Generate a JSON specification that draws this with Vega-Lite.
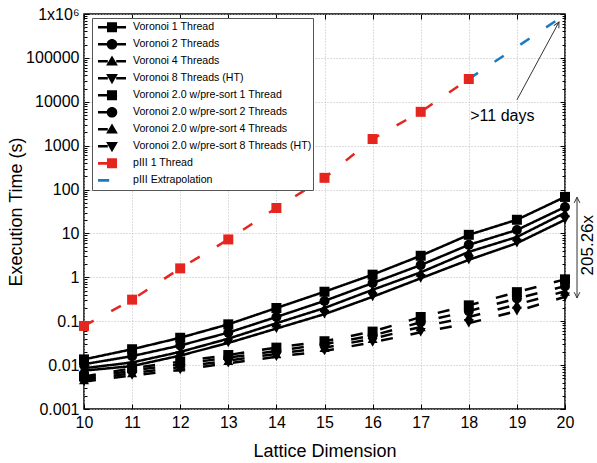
{
  "$schema": "https://vega.github.io/schema/vega-lite/v6.json",
  "width": 481,
  "height": 395,
  "autosize": {"type": "none"},
  "padding": {"left": 84, "top": 14, "right": 32, "bottom": 54},
  "background": "white",
  "config": {"font": "Liberation Sans", "view": {"stroke": "black", "strokeWidth": 1.5}},
  "datasets": {
    "main": [
      {"series": "Voronoi 1 Thread", "dim": 10, "time": 0.0135},
      {"series": "Voronoi 1 Thread", "dim": 11, "time": 0.023},
      {"series": "Voronoi 1 Thread", "dim": 12, "time": 0.042},
      {"series": "Voronoi 1 Thread", "dim": 13, "time": 0.085},
      {"series": "Voronoi 1 Thread", "dim": 14, "time": 0.2},
      {"series": "Voronoi 1 Thread", "dim": 15, "time": 0.47},
      {"series": "Voronoi 1 Thread", "dim": 16, "time": 1.15},
      {"series": "Voronoi 1 Thread", "dim": 17, "time": 3.1},
      {"series": "Voronoi 1 Thread", "dim": 18, "time": 9.3},
      {"series": "Voronoi 1 Thread", "dim": 19, "time": 20.5},
      {"series": "Voronoi 1 Thread", "dim": 20, "time": 68},
      {"series": "Voronoi 2 Threads", "dim": 10, "time": 0.0105},
      {"series": "Voronoi 2 Threads", "dim": 11, "time": 0.016},
      {"series": "Voronoi 2 Threads", "dim": 12, "time": 0.028},
      {"series": "Voronoi 2 Threads", "dim": 13, "time": 0.055},
      {"series": "Voronoi 2 Threads", "dim": 14, "time": 0.125},
      {"series": "Voronoi 2 Threads", "dim": 15, "time": 0.29},
      {"series": "Voronoi 2 Threads", "dim": 16, "time": 0.74},
      {"series": "Voronoi 2 Threads", "dim": 17, "time": 1.9},
      {"series": "Voronoi 2 Threads", "dim": 18, "time": 5.5},
      {"series": "Voronoi 2 Threads", "dim": 19, "time": 12},
      {"series": "Voronoi 2 Threads", "dim": 20, "time": 40},
      {"series": "Voronoi 4 Threads", "dim": 10, "time": 0.0085},
      {"series": "Voronoi 4 Threads", "dim": 11, "time": 0.0115},
      {"series": "Voronoi 4 Threads", "dim": 12, "time": 0.02},
      {"series": "Voronoi 4 Threads", "dim": 13, "time": 0.04},
      {"series": "Voronoi 4 Threads", "dim": 14, "time": 0.09},
      {"series": "Voronoi 4 Threads", "dim": 15, "time": 0.2},
      {"series": "Voronoi 4 Threads", "dim": 16, "time": 0.52},
      {"series": "Voronoi 4 Threads", "dim": 17, "time": 1.3},
      {"series": "Voronoi 4 Threads", "dim": 18, "time": 3.8},
      {"series": "Voronoi 4 Threads", "dim": 19, "time": 8.3},
      {"series": "Voronoi 4 Threads", "dim": 20, "time": 29.5},
      {"series": "Voronoi 8 Threads (HT)", "dim": 10, "time": 0.0075},
      {"series": "Voronoi 8 Threads (HT)", "dim": 11, "time": 0.0095},
      {"series": "Voronoi 8 Threads (HT)", "dim": 12, "time": 0.0165},
      {"series": "Voronoi 8 Threads (HT)", "dim": 13, "time": 0.032},
      {"series": "Voronoi 8 Threads (HT)", "dim": 14, "time": 0.068},
      {"series": "Voronoi 8 Threads (HT)", "dim": 15, "time": 0.145},
      {"series": "Voronoi 8 Threads (HT)", "dim": 16, "time": 0.36},
      {"series": "Voronoi 8 Threads (HT)", "dim": 17, "time": 0.95},
      {"series": "Voronoi 8 Threads (HT)", "dim": 18, "time": 2.5},
      {"series": "Voronoi 8 Threads (HT)", "dim": 19, "time": 6},
      {"series": "Voronoi 8 Threads (HT)", "dim": 20, "time": 20.5},
      {"series": "Voronoi 2.0 w/pre-sort 1 Thread", "dim": 10, "time": 0.0055},
      {"series": "Voronoi 2.0 w/pre-sort 1 Thread", "dim": 11, "time": 0.0085},
      {"series": "Voronoi 2.0 w/pre-sort 1 Thread", "dim": 12, "time": 0.012},
      {"series": "Voronoi 2.0 w/pre-sort 1 Thread", "dim": 13, "time": 0.017},
      {"series": "Voronoi 2.0 w/pre-sort 1 Thread", "dim": 14, "time": 0.025},
      {"series": "Voronoi 2.0 w/pre-sort 1 Thread", "dim": 15, "time": 0.035},
      {"series": "Voronoi 2.0 w/pre-sort 1 Thread", "dim": 16, "time": 0.058},
      {"series": "Voronoi 2.0 w/pre-sort 1 Thread", "dim": 17, "time": 0.125},
      {"series": "Voronoi 2.0 w/pre-sort 1 Thread", "dim": 18, "time": 0.23},
      {"series": "Voronoi 2.0 w/pre-sort 1 Thread", "dim": 19, "time": 0.46},
      {"series": "Voronoi 2.0 w/pre-sort 1 Thread", "dim": 20, "time": 0.9},
      {"series": "Voronoi 2.0 w/pre-sort 2 Threads", "dim": 10, "time": 0.005},
      {"series": "Voronoi 2.0 w/pre-sort 2 Threads", "dim": 11, "time": 0.0075},
      {"series": "Voronoi 2.0 w/pre-sort 2 Threads", "dim": 12, "time": 0.0105},
      {"series": "Voronoi 2.0 w/pre-sort 2 Threads", "dim": 13, "time": 0.0148},
      {"series": "Voronoi 2.0 w/pre-sort 2 Threads", "dim": 14, "time": 0.021},
      {"series": "Voronoi 2.0 w/pre-sort 2 Threads", "dim": 15, "time": 0.03},
      {"series": "Voronoi 2.0 w/pre-sort 2 Threads", "dim": 16, "time": 0.047},
      {"series": "Voronoi 2.0 w/pre-sort 2 Threads", "dim": 17, "time": 0.095},
      {"series": "Voronoi 2.0 w/pre-sort 2 Threads", "dim": 18, "time": 0.17},
      {"series": "Voronoi 2.0 w/pre-sort 2 Threads", "dim": 19, "time": 0.33},
      {"series": "Voronoi 2.0 w/pre-sort 2 Threads", "dim": 20, "time": 0.63},
      {"series": "Voronoi 2.0 w/pre-sort 4 Threads", "dim": 10, "time": 0.0046},
      {"series": "Voronoi 2.0 w/pre-sort 4 Threads", "dim": 11, "time": 0.0066},
      {"series": "Voronoi 2.0 w/pre-sort 4 Threads", "dim": 12, "time": 0.009},
      {"series": "Voronoi 2.0 w/pre-sort 4 Threads", "dim": 13, "time": 0.0127},
      {"series": "Voronoi 2.0 w/pre-sort 4 Threads", "dim": 14, "time": 0.018},
      {"series": "Voronoi 2.0 w/pre-sort 4 Threads", "dim": 15, "time": 0.025},
      {"series": "Voronoi 2.0 w/pre-sort 4 Threads", "dim": 16, "time": 0.04},
      {"series": "Voronoi 2.0 w/pre-sort 4 Threads", "dim": 17, "time": 0.074},
      {"series": "Voronoi 2.0 w/pre-sort 4 Threads", "dim": 18, "time": 0.125},
      {"series": "Voronoi 2.0 w/pre-sort 4 Threads", "dim": 19, "time": 0.24},
      {"series": "Voronoi 2.0 w/pre-sort 4 Threads", "dim": 20, "time": 0.48},
      {"series": "Voronoi 2.0 w/pre-sort 8 Threads (HT)", "dim": 10, "time": 0.0042},
      {"series": "Voronoi 2.0 w/pre-sort 8 Threads (HT)", "dim": 11, "time": 0.0058},
      {"series": "Voronoi 2.0 w/pre-sort 8 Threads (HT)", "dim": 12, "time": 0.0078},
      {"series": "Voronoi 2.0 w/pre-sort 8 Threads (HT)", "dim": 13, "time": 0.011},
      {"series": "Voronoi 2.0 w/pre-sort 8 Threads (HT)", "dim": 14, "time": 0.0155},
      {"series": "Voronoi 2.0 w/pre-sort 8 Threads (HT)", "dim": 15, "time": 0.021},
      {"series": "Voronoi 2.0 w/pre-sort 8 Threads (HT)", "dim": 16, "time": 0.033},
      {"series": "Voronoi 2.0 w/pre-sort 8 Threads (HT)", "dim": 17, "time": 0.056},
      {"series": "Voronoi 2.0 w/pre-sort 8 Threads (HT)", "dim": 18, "time": 0.09},
      {"series": "Voronoi 2.0 w/pre-sort 8 Threads (HT)", "dim": 19, "time": 0.17},
      {"series": "Voronoi 2.0 w/pre-sort 8 Threads (HT)", "dim": 20, "time": 0.36},
      {"series": "pIII 1 Thread", "dim": 10, "time": 0.078},
      {"series": "pIII 1 Thread", "dim": 11, "time": 0.31},
      {"series": "pIII 1 Thread", "dim": 12, "time": 1.6},
      {"series": "pIII 1 Thread", "dim": 13, "time": 7.3},
      {"series": "pIII 1 Thread", "dim": 14, "time": 38},
      {"series": "pIII 1 Thread", "dim": 15, "time": 185},
      {"series": "pIII 1 Thread", "dim": 16, "time": 1420},
      {"series": "pIII 1 Thread", "dim": 17, "time": 5900},
      {"series": "pIII 1 Thread", "dim": 18, "time": 33000},
      {"series": "pIII Extrapolation", "dim": 18, "time": 33000},
      {"series": "pIII Extrapolation", "dim": 20, "time": 960000}
    ],
    "gt": [{"dim": 18.03, "time": 4740, "label": ">11 days"}],
    "ratio": [{"dim": 20.48, "time": 5.4, "label": "205.26x"}],
    "arrows": [
      {"dim": 19.0, "time": 11000, "dim2": 19.875, "time2": 658000},
      {"dim": 20.25, "time": 67, "dim2": 20.25, "time2": 0.34}
    ],
    "tipDiag": [{"dim": 19.875, "time": 658000}],
    "tipUp": [{"dim": 20.25, "time": 67}],
    "tipDown": [{"dim": 20.25, "time": 0.34}]
  },
  "data": {"name": "main"},
  "resolve": {
    "scale": {"color": "independent", "shape": "independent", "strokeDash": "independent"},
    "axis": {"x": "independent", "y": "independent"}
  },
  "layer": [
    {
      "mark": {"type": "line", "strokeWidth": 2.5},
      "encoding": {
        "x": {
          "field": "dim", "type": "quantitative",
          "scale": {"domain": [10, 20], "nice": false, "zero": false},
          "axis": {
            "orient": "bottom", "values": [10, 11, 12, 13, 14, 15, 16, 17, 18, 19, 20], "format": "d",
            "title": "Lattice Dimension", "titleFontSize": 18, "titleFontWeight": "normal", "titleColor": "black", "titlePadding": 12,
            "labelFontSize": 16, "labelColor": "black", "labelPadding": 10, "labelFlush": false,
            "tickSize": -5, "tickColor": "black", "tickWidth": 1, "domain": false,
            "grid": true, "gridDash": [1, 2], "gridColor": "#bbbbbb", "gridWidth": 1
          }
        },
        "y": {
          "field": "time", "type": "quantitative",
          "scale": {"type": "log", "domain": [0.001, 1000000], "nice": false},
          "axis": {
            "orient": "left",
            "values": [0.001,0.002,0.003,0.004,0.005,0.006,0.007,0.008,0.009,0.01,0.02,0.03,0.04,0.05,0.06,0.07,0.08,0.09,0.1,0.2,0.3,0.4,0.5,0.6,0.7,0.8,0.9,1,2,3,4,5,6,7,8,9,10,20,30,40,50,60,70,80,90,100,200,300,400,500,600,700,800,900,1000,2000,3000,4000,5000,6000,7000,8000,9000,10000,20000,30000,40000,50000,60000,70000,80000,90000,100000,200000,300000,400000,500000,600000,700000,800000,900000,1000000],
            "labelExpr": "datum.value == 1000000 ? '1x10⁶' : (indexof([0.001,0.01,0.1,1,10,100,1000,10000,100000,1000000], datum.value) >= 0 ? toString(datum.value) : '')",
            "labelFontSize": 16, "labelColor": "black", "labelPadding": 10, "labelFlush": false,
            "tickSize": {"condition": {"test": "indexof([0.001,0.01,0.1,1,10,100,1000,10000,100000,1000000], datum.value) >= 0", "value": -5}, "value": -3},
            "tickColor": "black", "tickWidth": 1, "domain": false,
            "grid": true, "gridDash": [1, 2], "gridColor": "#bbbbbb", "gridWidth": 1,
            "gridOpacity": {"condition": {"test": "indexof([0.001,0.01,0.1,1,10,100,1000,10000,100000,1000000], datum.value) >= 0", "value": 1}, "value": 0},
            "title": "Execution Time (s)", "titleFontSize": 18, "titleFontWeight": "normal", "titleColor": "black", "titlePadding": 0
          }
        },
        "color": {
          "field": "series", "type": "nominal", "legend": null,
          "scale": {
            "domain": ["Voronoi 1 Thread", "Voronoi 2 Threads", "Voronoi 4 Threads", "Voronoi 8 Threads (HT)", "Voronoi 2.0 w/pre-sort 1 Thread", "Voronoi 2.0 w/pre-sort 2 Threads", "Voronoi 2.0 w/pre-sort 4 Threads", "Voronoi 2.0 w/pre-sort 8 Threads (HT)", "pIII 1 Thread", "pIII Extrapolation"],
            "range": ["#000000", "#000000", "#000000", "#000000", "#000000", "#000000", "#000000", "#000000", "#e5261f", "#1b7bbf"]
          }
        },
        "strokeDash": {
          "field": "series", "type": "nominal", "legend": null,
          "scale": {
            "domain": ["Voronoi 1 Thread", "Voronoi 2 Threads", "Voronoi 4 Threads", "Voronoi 8 Threads (HT)", "Voronoi 2.0 w/pre-sort 1 Thread", "Voronoi 2.0 w/pre-sort 2 Threads", "Voronoi 2.0 w/pre-sort 4 Threads", "Voronoi 2.0 w/pre-sort 8 Threads (HT)", "pIII 1 Thread", "pIII Extrapolation"],
            "range": [[1, 0], [1, 0], [1, 0], [1, 0], [12, 18], [12, 18], [12, 18], [12, 18], [11, 20], [11, 20]]
          }
        }
      }
    },
    {
      "transform": [{"filter": "datum.series != 'pIII Extrapolation'"}],
      "mark": {"type": "point", "filled": true, "opacity": 1, "size": 100},
      "encoding": {
        "x": {
          "field": "dim", "type": "quantitative",
          "axis": {"orient": "top", "values": [10, 11, 12, 13, 14, 15, 16, 17, 18, 19, 20], "labels": false, "title": null, "tickSize": -5, "tickColor": "black", "tickWidth": 1, "domain": false, "grid": false}
        },
        "y": {
          "field": "time", "type": "quantitative",
          "axis": {
            "orient": "right", "labels": false, "title": null, "domain": false, "grid": false,
            "values": [0.001,0.002,0.003,0.004,0.005,0.006,0.007,0.008,0.009,0.01,0.02,0.03,0.04,0.05,0.06,0.07,0.08,0.09,0.1,0.2,0.3,0.4,0.5,0.6,0.7,0.8,0.9,1,2,3,4,5,6,7,8,9,10,20,30,40,50,60,70,80,90,100,200,300,400,500,600,700,800,900,1000,2000,3000,4000,5000,6000,7000,8000,9000,10000,20000,30000,40000,50000,60000,70000,80000,90000,100000,200000,300000,400000,500000,600000,700000,800000,900000,1000000],
            "tickSize": {"condition": {"test": "indexof([0.001,0.01,0.1,1,10,100,1000,10000,100000,1000000], datum.value) >= 0", "value": -5}, "value": -3},
            "tickColor": "black", "tickWidth": 1
          }
        },
        "color": {
          "field": "series", "type": "nominal", "legend": null,
          "scale": {
            "domain": ["Voronoi 1 Thread", "Voronoi 2 Threads", "Voronoi 4 Threads", "Voronoi 8 Threads (HT)", "Voronoi 2.0 w/pre-sort 1 Thread", "Voronoi 2.0 w/pre-sort 2 Threads", "Voronoi 2.0 w/pre-sort 4 Threads", "Voronoi 2.0 w/pre-sort 8 Threads (HT)", "pIII 1 Thread", "pIII Extrapolation"],
            "range": ["#000000", "#000000", "#000000", "#000000", "#000000", "#000000", "#000000", "#000000", "#e5261f", "#1b7bbf"]
          }
        },
        "shape": {
          "field": "series", "type": "nominal", "legend": null,
          "scale": {
            "domain": ["Voronoi 1 Thread", "Voronoi 2 Threads", "Voronoi 4 Threads", "Voronoi 8 Threads (HT)", "Voronoi 2.0 w/pre-sort 1 Thread", "Voronoi 2.0 w/pre-sort 2 Threads", "Voronoi 2.0 w/pre-sort 4 Threads", "Voronoi 2.0 w/pre-sort 8 Threads (HT)", "pIII 1 Thread", "pIII Extrapolation"],
            "range": ["square", "circle", "triangle-up", "triangle-down", "square", "circle", "triangle-up", "triangle-down", "square", "square"]
          }
        }
      }
    },
    {
      "transform": [{"filter": "false"}],
      "mark": {"type": "point", "filled": true, "opacity": 1},
      "encoding": {
        "shape": {
          "field": "series", "type": "nominal",
          "scale": {
            "domain": ["Voronoi 1 Thread", "Voronoi 2 Threads", "Voronoi 4 Threads", "Voronoi 8 Threads (HT)", "Voronoi 2.0 w/pre-sort 1 Thread", "Voronoi 2.0 w/pre-sort 2 Threads", "Voronoi 2.0 w/pre-sort 4 Threads", "Voronoi 2.0 w/pre-sort 8 Threads (HT)", "pIII 1 Thread", "pIII Extrapolation"],
            "range": [
              "M-1,-0.09L-0.3,-0.09L-0.3,0.09L-1,0.09Z M0.3,-0.09L1,-0.09L1,0.09L0.3,0.09Z M-0.36,-0.36L0.36,-0.36L0.36,0.36L-0.36,0.36Z",
              "M-1,-0.09L-0.3,-0.09L-0.3,0.09L-1,0.09Z M0.3,-0.09L1,-0.09L1,0.09L0.3,0.09Z M0.38,0A0.38,0.38,0,1,1,-0.38,0A0.38,0.38,0,1,1,0.38,0Z",
              "M-1,-0.09L-0.3,-0.09L-0.3,0.09L-1,0.09Z M0.3,-0.09L1,-0.09L1,0.09L0.3,0.09Z M0,-0.42L0.42,0.3L-0.42,0.3Z",
              "M-1,-0.09L-0.3,-0.09L-0.3,0.09L-1,0.09Z M0.3,-0.09L1,-0.09L1,0.09L0.3,0.09Z M0,0.42L0.42,-0.3L-0.42,-0.3Z",
              "M-1,-0.09L-0.3,-0.09L-0.3,0.09L-1,0.09Z M-0.36,-0.36L0.36,-0.36L0.36,0.36L-0.36,0.36Z",
              "M-1,-0.09L-0.3,-0.09L-0.3,0.09L-1,0.09Z M0.38,0A0.38,0.38,0,1,1,-0.38,0A0.38,0.38,0,1,1,0.38,0Z",
              "M-1,-0.09L-0.3,-0.09L-0.3,0.09L-1,0.09Z M0,-0.42L0.42,0.3L-0.42,0.3Z",
              "M-1,-0.09L-0.3,-0.09L-0.3,0.09L-1,0.09Z M0,0.42L0.42,-0.3L-0.42,-0.3Z",
              "M-1,-0.1L-0.3,-0.1L-0.3,0.1L-1,0.1Z M-0.36,-0.36L0.36,-0.36L0.36,0.36L-0.36,0.36Z",
              "M-1,-0.1L-0.2,-0.1L-0.2,0.1L-1,0.1Z"
            ]
          },
          "legend": {"title": null, "orient": "none", "legendX": 8, "legendY": 4, "symbolSize": 784, "symbolStrokeWidth": 0, "clipHeight": 16.6, "rowPadding": 0, "padding": 1, "symbolOffset": 5, "labelOffset": 7, "labelFontSize": 10.6, "labelFont": "Liberation Sans", "labelColor": "black", "labelLimit": 400, "fillColor": "white", "strokeColor": "#555555"}
        },
        "color": {
          "field": "series", "type": "nominal",
          "scale": {
            "domain": ["Voronoi 1 Thread", "Voronoi 2 Threads", "Voronoi 4 Threads", "Voronoi 8 Threads (HT)", "Voronoi 2.0 w/pre-sort 1 Thread", "Voronoi 2.0 w/pre-sort 2 Threads", "Voronoi 2.0 w/pre-sort 4 Threads", "Voronoi 2.0 w/pre-sort 8 Threads (HT)", "pIII 1 Thread", "pIII Extrapolation"],
            "range": ["#000000", "#000000", "#000000", "#000000", "#000000", "#000000", "#000000", "#000000", "#e5261f", "#1b7bbf"]
          },
          "legend": {"title": null, "orient": "none", "legendX": 8, "legendY": 4, "symbolSize": 784, "symbolStrokeWidth": 0, "clipHeight": 16.6, "rowPadding": 0, "padding": 1, "symbolOffset": 5, "labelOffset": 7, "labelFontSize": 10.6, "labelFont": "Liberation Sans", "labelColor": "black", "labelLimit": 400, "fillColor": "white", "strokeColor": "#555555"}
        }
      }
    },
    {
      "data": {"name": "arrows"},
      "mark": {"type": "rule", "color": "#333333", "strokeWidth": 1},
      "encoding": {
        "x": {"field": "dim", "type": "quantitative", "axis": null},
        "y": {"field": "time", "type": "quantitative", "axis": null},
        "x2": {"field": "dim2"},
        "y2": {"field": "time2"}
      }
    },
    {
      "data": {"name": "tipDiag"},
      "mark": {"type": "point", "shape": "M-0.45,0.9L0,0L0.45,0.9", "filled": false, "opacity": 1, "stroke": "#333333", "strokeWidth": 1, "size": 160, "angle": 28},
      "encoding": {
        "x": {"field": "dim", "type": "quantitative", "axis": null},
        "y": {"field": "time", "type": "quantitative", "axis": null}
      }
    },
    {
      "data": {"name": "tipUp"},
      "mark": {"type": "point", "shape": "M-0.45,0.9L0,0L0.45,0.9", "filled": false, "opacity": 1, "stroke": "#333333", "strokeWidth": 1, "size": 160, "angle": 0},
      "encoding": {
        "x": {"field": "dim", "type": "quantitative", "axis": null},
        "y": {"field": "time", "type": "quantitative", "axis": null}
      }
    },
    {
      "data": {"name": "tipDown"},
      "mark": {"type": "point", "shape": "M-0.45,0.9L0,0L0.45,0.9", "filled": false, "opacity": 1, "stroke": "#333333", "strokeWidth": 1, "size": 160, "angle": 180},
      "encoding": {
        "x": {"field": "dim", "type": "quantitative", "axis": null},
        "y": {"field": "time", "type": "quantitative", "axis": null}
      }
    },
    {
      "data": {"name": "gt"},
      "mark": {"type": "text", "align": "left", "baseline": "middle", "fontSize": 16, "color": "black", "font": "Liberation Sans"},
      "encoding": {
        "x": {"field": "dim", "type": "quantitative", "axis": null},
        "y": {"field": "time", "type": "quantitative", "axis": null},
        "text": {"field": "label"}
      }
    },
    {
      "data": {"name": "ratio"},
      "mark": {"type": "text", "align": "center", "baseline": "middle", "fontSize": 17, "angle": 270, "color": "black", "font": "Liberation Sans"},
      "encoding": {
        "x": {"field": "dim", "type": "quantitative", "axis": null},
        "y": {"field": "time", "type": "quantitative", "axis": null},
        "text": {"field": "label"}
      }
    }
  ]
}
